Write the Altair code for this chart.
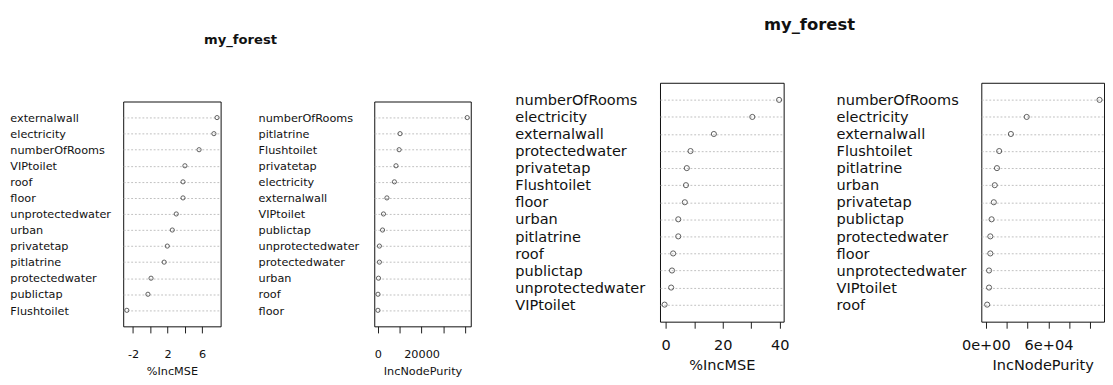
import altair as alt
import pandas as pd

# ---- data ----
mse1_vars = ["externalwall", "electricity", "numberOfRooms", "VIPtoilet", "roof", "floor",
             "unprotectedwater", "urban", "privatetap", "pitlatrine", "protectedwater",
             "publictap", "Flushtoilet"]
mse1_vals = [7.72, 7.36, 5.64, 4.0, 3.78, 3.78, 3.0, 2.54, 1.96, 1.6, 0.08, -0.28, -2.72]

pur1_vars = ["numberOfRooms", "pitlatrine", "Flushtoilet", "privatetap", "electricity",
             "externalwall", "VIPtoilet", "publictap", "unprotectedwater", "protectedwater",
             "urban", "roof", "floor"]
pur1_vals = [40860, 10140, 9710, 8290, 7570, 4140, 2570, 2140, 710, 710, 290, 60, 30]

mse2_vars = ["numberOfRooms", "electricity", "externalwall", "protectedwater", "privatetap",
             "Flushtoilet", "floor", "urban", "pitlatrine", "roof", "publictap",
             "unprotectedwater", "VIPtoilet"]
mse2_vals = [39.8, 30.4, 16.9, 8.7, 7.4, 7.1, 6.7, 4.4, 4.4, 2.6, 2.2, 1.9, -0.4]

pur2_vars = ["numberOfRooms", "electricity", "externalwall", "Flushtoilet", "pitlatrine",
             "urban", "privatetap", "publictap", "protectedwater", "floor",
             "unprotectedwater", "VIPtoilet", "roof"]
pur2_vals = [108800, 39090, 23940, 12730, 10600, 8480, 7580, 5450, 4240, 4240, 3030, 3030, 1210]

# axis ticks and the labels R kept
mse1_ticks = [-2, 0, 2, 4, 6]
mse1_labels = {-2: "-2", 2: "2", 6: "6"}
pur1_ticks = [0, 10000, 20000, 30000, 40000]
pur1_labels = {0: "0", 20000: "20000"}
mse2_ticks = [0, 10, 20, 30, 40]
mse2_labels = {0: "0", 20: "20", 40: "40"}
pur2_ticks = [0, 20000, 40000, 60000, 80000, 100000]
pur2_labels = {0: "0e+00", 60000: "6e+04"}

FONT = "DejaVu Sans"
INK = "#111111"


def label_expr(mapping):
    expr = "''"
    for v, t in reversed(list(mapping.items())):
        expr = f"datum.value == {v} ? '{t}' : ({expr})"
    return expr


def panel(vars_, vals, xtitle, zero_min, ticks, labels, width, height, fs,
          lab_pad, pt_size, tick_lab_pad, title_pad):
    df = pd.DataFrame({"var": vars_, "val": vals})
    lo = 0 if zero_min else min(vals)
    hi = max(vals)
    ext = 0.04 * (hi - lo)
    dom = [lo - ext, hi + ext]
    return alt.Chart(df).mark_point(
        shape="circle", filled=False, color=INK, size=pt_size, strokeWidth=1
    ).encode(
        x=alt.X("val:Q",
                scale=alt.Scale(domain=dom, nice=False, zero=False),
                axis=alt.Axis(values=ticks, labelExpr=label_expr(labels), title=xtitle,
                              grid=False, domain=False, tickSize=7, tickColor=INK,
                              labelFontSize=fs, titleFontSize=fs, labelFont=FONT,
                              titleFont=FONT, titleFontWeight="normal",
                              labelColor=INK, titleColor=INK, labelOverlap=False,
                              labelFlush=False, labelPadding=tick_lab_pad,
                              titlePadding=title_pad)),
        y=alt.Y("var:N", sort=vars_,
                scale=alt.Scale(type="point", padding=1.03),
                axis=alt.Axis(title=None, ticks=False, tickSize=0, domain=False,
                              labelAlign="left", labelBaseline="middle",
                              labelPadding=lab_pad, labelFontSize=fs, labelFont=FONT,
                              labelColor=INK, labelLimit=0, grid=True,
                              gridDash=[2, 2], gridColor="#bdbdbd", gridWidth=1)),
    ).properties(width=width, height=height)


p1 = panel(mse1_vars, mse1_vals, "%IncMSE", False, mse1_ticks, mse1_labels,
           104, 240, 12, 121, 20, 17, 7)
p2 = panel(pur1_vars, pur1_vals, "IncNodePurity", True, pur1_ticks, pur1_labels,
           103, 240, 12, 124, 20, 17, 7)
p3 = panel(mse2_vars, mse2_vals, "%IncMSE", False, mse2_ticks, mse2_labels,
           132, 255, 15.5, 155, 30, 11, 6)
p4 = panel(pur2_vars, pur2_vals, "IncNodePurity", True, pur2_ticks, pur2_labels,
           131, 255, 15.5, 155, 30, 11, 6)

# invisible spacer that drops the left figure below the right one
spacer = alt.Chart(pd.DataFrame({"a": [0]})).mark_point(opacity=0).encode(
    x=alt.value(0), y=alt.value(0)
).properties(width=10, height=1, view=alt.ViewBackground(strokeOpacity=0))

left = alt.vconcat(
    spacer, alt.hconcat(p1, p2, spacing=38), spacing=16,
    title=alt.TitleParams("my_forest", fontSize=14, font=FONT, fontWeight="bold",
                          anchor="middle", offset=36, color=INK))
right = alt.hconcat(
    p3, p4, spacing=48,
    title=alt.TitleParams("my_forest", fontSize=17.5, font=FONT, fontWeight="bold",
                          anchor="middle", offset=52, color=INK))

chart = alt.hconcat(left, right, spacing=45).properties(
    padding={"left": 1, "top": -3, "right": 0, "bottom": 0}
).configure_view(stroke="black", strokeWidth=1)

chart.save("out.html", embed_options={"renderer": "svg", "actions": False})
